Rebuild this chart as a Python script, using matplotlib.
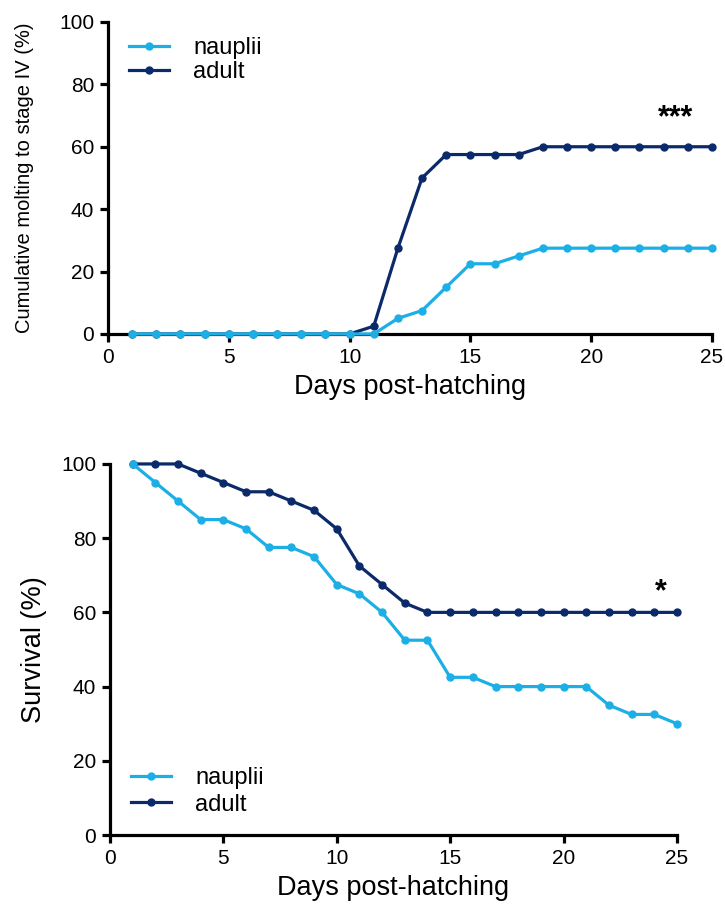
import numpy as np
import matplotlib
matplotlib.use('Agg')
from matplotlib import pyplot as plt

plt.rcParams['font.family'] = ['Liberation Sans', 'DejaVu Sans']

days = np.arange(1, 26)

# cumulative molting to stage IV (%)
molt_nauplii = [0, 0, 0, 0, 0, 0, 0, 0, 0, 0, 0, 5, 7.5, 15, 22.5, 22.5, 25,
                27.5, 27.5, 27.5, 27.5, 27.5, 27.5, 27.5, 27.5]
molt_adult = [0, 0, 0, 0, 0, 0, 0, 0, 0, 0, 2.5, 27.5, 50, 57.5, 57.5, 57.5,
              57.5, 60, 60, 60, 60, 60, 60, 60, 60]

# survival (%)
surv_nauplii = [100, 95, 90, 85, 85, 82.5, 77.5, 77.5, 75, 67.5, 65, 60, 52.5,
                52.5, 42.5, 42.5, 40, 40, 40, 40, 40, 35, 32.5, 32.5, 30]
surv_adult = [100, 100, 100, 97.5, 95, 92.5, 92.5, 90, 87.5, 82.5, 72.5, 67.5,
              62.5, 60, 60, 60, 60, 60, 60, 60, 60, 60, 60, 60, 60]

c_naup = '#1cafe6'
c_adult = '#0b2a6a'


def style_axes(ax):
    for s in ['top', 'right']:
        ax.spines[s].set_visible(False)
    for s in ['left', 'bottom']:
        ax.spines[s].set_linewidth(2.3)
    ax.tick_params(direction='out', length=6, width=2.3, labelsize=15, pad=4)
    ax.set_xlim(0, 25)
    ax.set_ylim(0, 100)
    ax.set_xticks([0, 5, 10, 15, 20, 25])
    ax.set_yticks([0, 20, 40, 60, 80, 100])


def draw_series(ax, naup, adult):
    ax.plot(days, adult, '-o', color=c_adult, lw=2.3, ms=5, label='adult',
            zorder=3, clip_on=False)
    ax.plot(days, naup, '-o', color=c_naup, lw=2.3, ms=5, label='nauplii',
            zorder=4, clip_on=False)
    h, l = ax.get_legend_handles_labels()
    return h[::-1], l[::-1]


fig = plt.figure(figsize=(7.25, 9.14), dpi=100)

ax1 = fig.add_axes([0.149, 0.6346, 0.833, 0.3414])
h, l = draw_series(ax1, molt_nauplii, molt_adult)
style_axes(ax1)
ax1.legend(h, l, loc='upper left', bbox_to_anchor=(0.0, 1.02), frameon=False,
           fontsize=17, handlelength=1.7, handletextpad=1.0, labelspacing=0.1)
ax1.text(23.5, 69, '***', fontsize=22, fontweight='bold', ha='center', va='center')
ax1.set_xlabel('Days post-hatching', fontsize=19.5, labelpad=5)
ax1.set_ylabel('Cumulative molting to stage IV (%)', fontsize=14.5, labelpad=18)

ax2 = fig.add_axes([0.1517, 0.0864, 0.782, 0.406])
h, l = draw_series(ax2, surv_nauplii, surv_adult)
style_axes(ax2)
ax2.legend(h, l, loc='lower left', bbox_to_anchor=(0.0, -0.005), frameon=False,
           fontsize=17, handlelength=1.7, handletextpad=1.0, labelspacing=0.2)
ax2.text(24.3, 65.5, '*', fontsize=22, fontweight='bold', ha='center', va='center')
ax2.set_xlabel('Days post-hatching', fontsize=19.5, labelpad=5)
ax2.set_ylabel('Survival (%)', fontsize=19.5, labelpad=10)

fig.savefig('out.png', dpi=100)
